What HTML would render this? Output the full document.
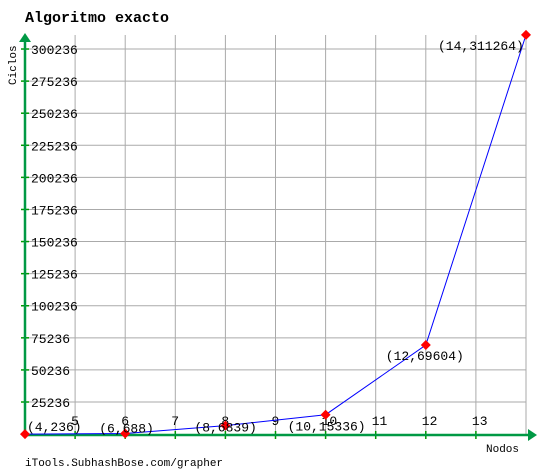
<!DOCTYPE html>
<html><head><meta charset="utf-8"><style>
body{margin:0;background:#fff;}
svg text{font-family:"Liberation Mono","DejaVu Sans Mono",monospace;font-size:13px;fill:#000;}
</style></head><body>
<svg id="c" width="538" height="470">
<text x="25" y="22" style="font-weight:bold;font-size:15px">Algoritmo exacto</text>
<text x="16" y="85" transform="rotate(-90 16 85)" style="font-size:11px">Ciclos</text>
<text x="486" y="452" style="font-size:11px">Nodos</text>
<text x="25" y="466" style="font-size:11px">iTools.SubhashBose.com/grapher</text>
<g id="grid"></g><g id="axes"></g><g id="marks"></g>
</svg>
<script>
const xs=[4,6,8,10,12,14];
const ys=[236,688,6839,15336,69604,311264];
const xTicks=[5,6,7,8,9,10,11,12,13];
const yTicks=[25236,50236,75236,100236,125236,150236,175236,200236,225236,250236,275236,300236];
const labelPos=[[2,-3],[-26,-1],[-31,6],[-38,16],[-40,15],[-88,15]];
const NS='http://www.w3.org/2000/svg';
const X=v=>25+(v-4)*50.1;
const Y=v=>434.4-v*0.0012836;
function mk(t,a,p){const e=document.createElementNS(NS,t);for(const k in a)e.setAttribute(k,a[k]);p.appendChild(e);return e;}
const g=document.getElementById('grid'),ax=document.getElementById('axes'),m=document.getElementById('marks');
for(let v=5;v<=14;v++){const l=mk('line',{x1:X(v),x2:X(v),y1:35,y2:435,stroke:'#aaa'},g);

}
yTicks.forEach(v=>{const l=mk('line',{x1:25,x2:526,y1:Y(v),y2:Y(v),stroke:'#aaa'},g);


const t=mk('line',{x1:21,x2:29,y1:Y(v),y2:Y(v),stroke:'#090',"stroke-width":1.5},ax);


const tx=mk('text',{x:31,y:Y(v)+5},ax);tx.textContent=v;

});
xTicks.forEach(v=>{const t=mk('line',{x1:X(v),x2:X(v),y1:431,y2:439,stroke:'#090',"stroke-width":1.5},ax);


const tx=mk('text',{x:X(v)-4,y:425},ax);tx.textContent=v;

});
let a=mk('line',{x1:25,x2:25,y1:40,y2:436,stroke:'#094',"stroke-width":2.5},ax);


a=mk('polygon',{points:'19,42 31,42 25,33',fill:'#094'},ax);


a=mk('line',{x1:24,x2:530,y1:435,y2:435,stroke:'#094',"stroke-width":2.5},ax);


a=mk('polygon',{points:'528,429 528,441 537,435',fill:'#094'},ax);


const pl=mk('polyline',{points:xs.map((v,i)=>X(v)+','+Y(ys[i])).join(' '),fill:'none',stroke:'#00f',"stroke-width":1},m);


xs.forEach((v,i)=>{const px=X(v),py=Y(ys[i]);
const d=mk('polygon',{points:`${px},${py-5} ${px+5},${py} ${px},${py+5} ${px-5},${py}`,fill:'#f00'},m);


const t=mk('text',{x:px+labelPos[i][0],y:py+labelPos[i][1]},m);t.textContent='('+v+','+ys[i]+')';

});
</script>
</body></html>
